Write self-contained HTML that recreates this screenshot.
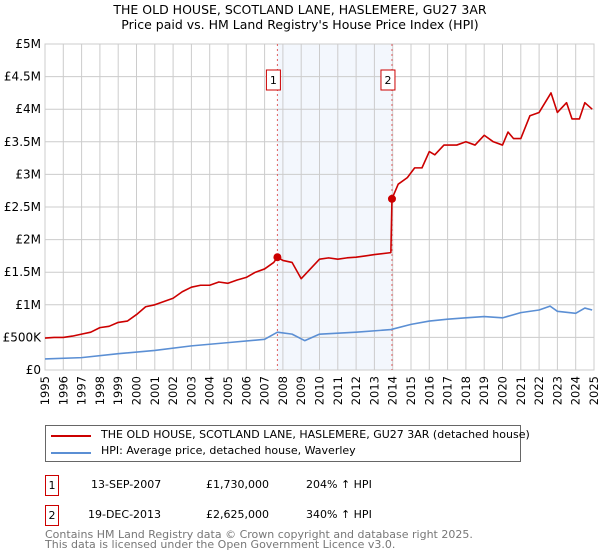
<!DOCTYPE html>
<html><head><meta charset="utf-8"><style>
body{margin:0;background:#fff;font-family:"DejaVu Sans","Liberation Sans",sans-serif;}
#wrap{position:relative;width:600px;height:560px;overflow:hidden}
.t{position:absolute;font-size:12px;color:#000;white-space:nowrap}
</style></head><body><div id="wrap">
<svg id="c" width="600" height="560" style="position:absolute;left:0;top:0"></svg>
<div class="t" style="left:0;width:600px;text-align:center;top:2px;font-size:12.5px">THE OLD HOUSE, SCOTLAND LANE, HASLEMERE, GU27 3AR<br>Price paid vs. HM Land Registry's House Price Index (HPI)</div>
<div style="position:absolute;left:45px;top:425px;width:474px;height:35px;border:1px solid #666;font-size:11px">
 <div style="position:absolute;left:5px;top:9px;width:40px;height:2px;background:#cc0000"></div>
 <div class="t" style="left:55px;top:2px;font-size:11px">THE OLD HOUSE, SCOTLAND LANE, HASLEMERE, GU27 3AR (detached house)</div>
 <div style="position:absolute;left:5px;top:26px;width:40px;height:2px;background:#5b8fd4"></div>
 <div class="t" style="left:55px;top:18px;font-size:11px">HPI: Average price, detached house, Waverley</div>
</div>
<div>
<div class="t" style="left:45px;top:475px;width:12px;height:19px;border:1px solid #cc0000;text-align:center;line-height:19px;font-size:11px">1</div>
<div class="t" style="left:91px;top:478px;font-size:11px">13-SEP-2007</div>
<div class="t" style="left:206px;top:478px;font-size:11px">£1,730,000</div>
<div class="t" style="left:306px;top:478px;font-size:11px">204% ↑ HPI</div></div>
<div>
<div class="t" style="left:45px;top:505px;width:12px;height:19px;border:1px solid #cc0000;text-align:center;line-height:19px;font-size:11px">2</div>
<div class="t" style="left:88px;top:508px;font-size:11px">19-DEC-2013</div>
<div class="t" style="left:206px;top:508px;font-size:11px">£2,625,000</div>
<div class="t" style="left:306px;top:508px;font-size:11px">340% ↑ HPI</div></div>
<div class="t" style="left:45px;top:530px;font-size:11px;color:#777;line-height:10px">Contains HM Land Registry data © Crown copyright and database right 2025.<br>This data is licensed under the Open Government Licence v3.0.</div>
</div>
<script>
const redYears=[1995,1995.5,1996,1996.5,1997,1997.5,1998,1998.5,1999,1999.5,2000,2000.5,2001,2001.5,2002,2002.5,2003,2003.5,2004,2004.5,2005,2005.5,2006,2006.5,2007,2007.5,2007.7,2008,2008.5,2009,2009.5,2010,2010.5,2011,2011.5,2012,2012.5,2013,2013.9,2013.96,2014.3,2014.8,2015.2,2015.6,2016,2016.3,2016.8,2017.5,2018,2018.5,2019,2019.5,2020,2020.3,2020.6,2021,2021.5,2022,2022.65,2023,2023.5,2023.8,2024.2,2024.5,2024.9];
const redVals=[0.49,0.5,0.5,0.52,0.55,0.58,0.65,0.67,0.73,0.75,0.85,0.97,1.0,1.05,1.1,1.2,1.27,1.3,1.3,1.35,1.33,1.38,1.42,1.5,1.55,1.65,1.73,1.68,1.65,1.4,1.55,1.7,1.72,1.7,1.72,1.73,1.75,1.77,1.8,2.625,2.85,2.95,3.1,3.1,3.35,3.3,3.45,3.45,3.5,3.45,3.6,3.5,3.45,3.65,3.55,3.55,3.9,3.95,4.25,3.95,4.1,3.85,3.85,4.1,4.0];
const blueYears=[1995,1997,1999,2001,2003,2005,2007,2007.7,2008.5,2009.2,2010,2012,2013.9,2015,2016,2017,2018,2019,2020,2021,2022,2022.6,2023,2024,2024.5,2024.9];
const blueVals=[0.17,0.19,0.25,0.3,0.37,0.42,0.47,0.58,0.55,0.45,0.55,0.58,0.62,0.7,0.75,0.78,0.8,0.82,0.8,0.88,0.92,0.98,0.9,0.87,0.95,0.92];
const saleYears=[2007.7,2013.96];
const saleVals=[1.73,2.625];
const saleLabels=["1","2"];
const yTicks=[0,0.5,1,1.5,2,2.5,3,3.5,4,4.5,5];
const yTickLabels=["£0","£500K","£1M","£1.5M","£2M","£2.5M","£3M","£3.5M","£4M","£4.5M","£5M"];
const xTicks=[];for(let y=1995;y<=2025;y++)xTicks.push(y);
const L=45,R=594,T=44,B=370;
const X=v=>L+(v-1995)/30*(R-L), Y=v=>B-v/5*(B-T);
const svg=document.getElementById('c'),NS='http://www.w3.org/2000/svg';
function mk(t,a,p){const e=document.createElementNS(NS,t);for(const k in a)e.setAttribute(k,a[k]);(p||svg).appendChild(e);return e;}
let e=mk('rect',{x:X(saleYears[0]),y:T,width:X(saleYears[1])-X(saleYears[0]),height:B-T,fill:'#eef3fc',opacity:0.7});


xTicks.forEach(yr=>{const l=mk('line',{x1:X(yr),x2:X(yr),y1:T,y2:B,stroke:'#ccc'});


const t=mk('text',{x:X(yr),y:0,'font-size':11.5,'text-anchor':'end',transform:`translate(${X(yr)+4},${B+6}) rotate(-90)`});
t.setAttribute('x',0);t.setAttribute('y',0);t.textContent=yr;

});
yTicks.forEach((v,i)=>{const l=mk('line',{x1:L,x2:R,y1:Y(v),y2:Y(v),stroke:'#ccc'});


const t=mk('text',{x:L-4,y:Y(v)+4,'font-size':12,'text-anchor':'end'});t.textContent=yTickLabels[i];

});
e=mk('rect',{x:L,y:T,width:R-L,height:B-T,fill:'none',stroke:'#ccc'});


saleYears.forEach((yr,i)=>{const l=mk('line',{x1:X(yr),x2:X(yr),y1:T,y2:B,stroke:'#e06060','stroke-dasharray':'2,3'});


const g=mk('g',{});

mk('rect',{x:X(yr)-11,y:70,width:14,height:20,fill:'#fff',stroke:'#cc0000'},g);
const t=mk('text',{x:X(yr)-4,y:84,'font-size':11,'text-anchor':'middle'},g);t.textContent=saleLabels[i];});
function line(xs,vs,col,name){const p=mk('polyline',{points:xs.map((x,i)=>X(x)+','+Y(vs[i])).join(' '),fill:'none',stroke:col,'stroke-width':1.6,'stroke-linejoin':'round'});

}
line(blueYears,blueVals,'#5b8fd4','hpi-line');
line(redYears,redVals,'#cc0000','property-line');
saleYears.forEach((yr,i)=>{const c=mk('circle',{cx:X(yr),cy:Y(saleVals[i]),r:4,fill:'#cc0000'});

});
</script></body></html>
